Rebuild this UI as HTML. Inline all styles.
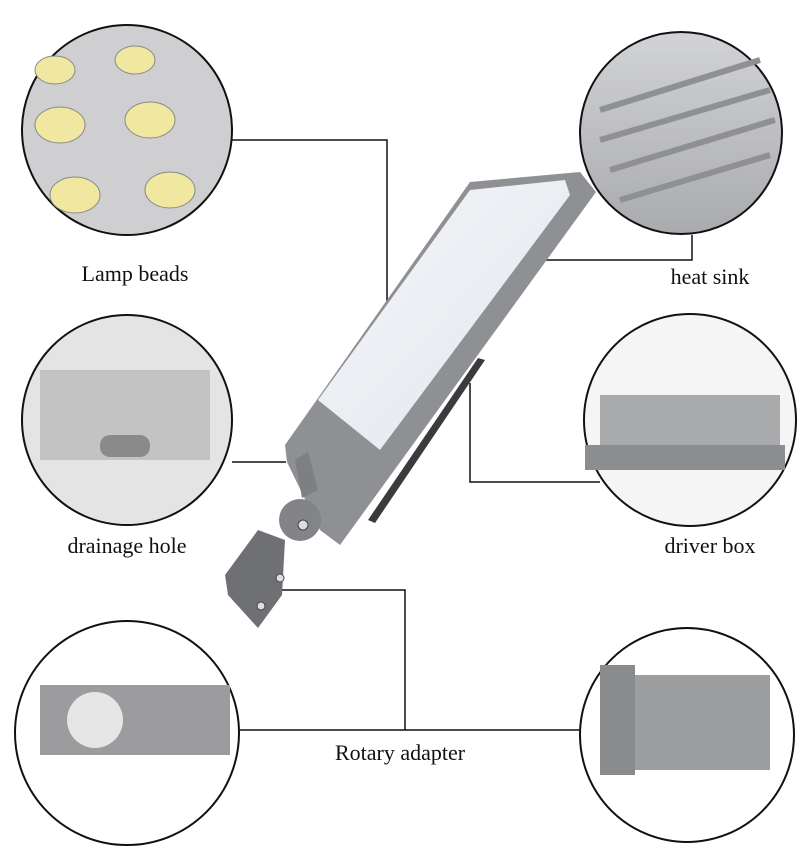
<!DOCTYPE html>
<html><head><meta charset="utf-8"><style>
body{margin:0;background:#fff;}
svg{display:block}
text{font-family:"Liberation Serif",serif;font-size:22px;fill:#111}
</style></head><body>
<svg width="800" height="853" viewBox="0 0 800 853" xmlns="http://www.w3.org/2000/svg">
<defs>
<linearGradient id="led" x1="0" y1="0" x2="1" y2="1"><stop offset="0" stop-color="#f4f6fa"/><stop offset="1" stop-color="#e2e5ea"/></linearGradient>
<linearGradient id="hs" x1="0" y1="0" x2="0" y2="1"><stop offset="0" stop-color="#d2d3d6"/><stop offset="1" stop-color="#a9aaad"/></linearGradient>
</defs>
<g stroke="#111" stroke-width="1.5" fill="none">
<polyline points="232,140 387,140 387,318"/>
<polyline points="543,260 692,260 692,235"/>
<polyline points="470,383 470,482 600,482"/>
<polyline points="232,462 286,462"/>
<polyline points="282,590 405,590 405,730"/>
<line x1="240" y1="730" x2="582" y2="730"/>
</g>
<g stroke="#111" stroke-width="2">
<circle cx="127" cy="130" r="105" fill="#cfcfd2"/>
<circle cx="681" cy="133" r="101" fill="url(#hs)"/>
<circle cx="127" cy="420" r="105" fill="#e4e4e4"/>
<circle cx="690" cy="420" r="106" fill="#f5f5f5"/>
<circle cx="127" cy="733" r="112" fill="#fff"/>
<circle cx="687" cy="735" r="107" fill="#fff"/>
</g>
<g fill="#f0e7a0" stroke="#888">
<ellipse cx="60" cy="125" rx="25" ry="18"/><ellipse cx="150" cy="120" rx="25" ry="18"/>
<ellipse cx="75" cy="195" rx="25" ry="18"/><ellipse cx="170" cy="190" rx="25" ry="18"/>
<ellipse cx="55" cy="70" rx="20" ry="14"/><ellipse cx="135" cy="60" rx="20" ry="14"/>
</g>
<g stroke="#8f9093" stroke-width="6">
<line x1="600" y1="110" x2="760" y2="60"/><line x1="600" y1="140" x2="770" y2="90"/><line x1="610" y1="170" x2="775" y2="120"/><line x1="620" y1="200" x2="770" y2="155"/>
</g>
<rect x="40" y="370" width="170" height="90" fill="#c3c3c3"/>
<rect x="100" y="435" width="50" height="22" rx="10" fill="#8a8a8a"/>
<rect x="600" y="395" width="180" height="55" fill="#a9aaac"/>
<rect x="585" y="445" width="200" height="25" fill="#8c8d90"/>
<rect x="40" y="685" width="190" height="70" fill="#9c9c9e"/>
<circle cx="95" cy="720" r="28" fill="#e6e6e6"/>
<rect x="620" y="675" width="150" height="95" fill="#9d9ea0"/>
<rect x="600" y="665" width="35" height="110" fill="#8a8b8d"/>
<!-- lamp -->
<polygon points="478,358 485,360 375,523 368,520" fill="#3a3b3d"/>
<polygon points="470,182 580,172 596,192 340,545 320,530 287,462 285,445" fill="#8e9093"/>
<polygon points="470,190 565,180 570,195 380,450 318,400" fill="url(#led)"/>
<polygon points="295,460 308,452 318,490 302,498" fill="#7d7f82"/>
<polygon points="258,530 285,540 282,595 258,628 228,595 225,575" fill="#6e7073"/>
<circle cx="300" cy="520" r="21" fill="#828487"/>
<circle cx="303" cy="525" r="5" fill="#ddd" stroke="#444"/>
<circle cx="280" cy="578" r="4" fill="#ddd" stroke="#444"/><circle cx="261" cy="606" r="4" fill="#ddd" stroke="#444"/>
<text x="135" y="281" text-anchor="middle">Lamp beads</text>
<text x="710" y="284" text-anchor="middle">heat sink</text>
<text x="127" y="553" text-anchor="middle">drainage hole</text>
<text x="710" y="553" text-anchor="middle">driver box</text>
<text x="400" y="760" text-anchor="middle">Rotary adapter</text>
</svg>
</body></html>
